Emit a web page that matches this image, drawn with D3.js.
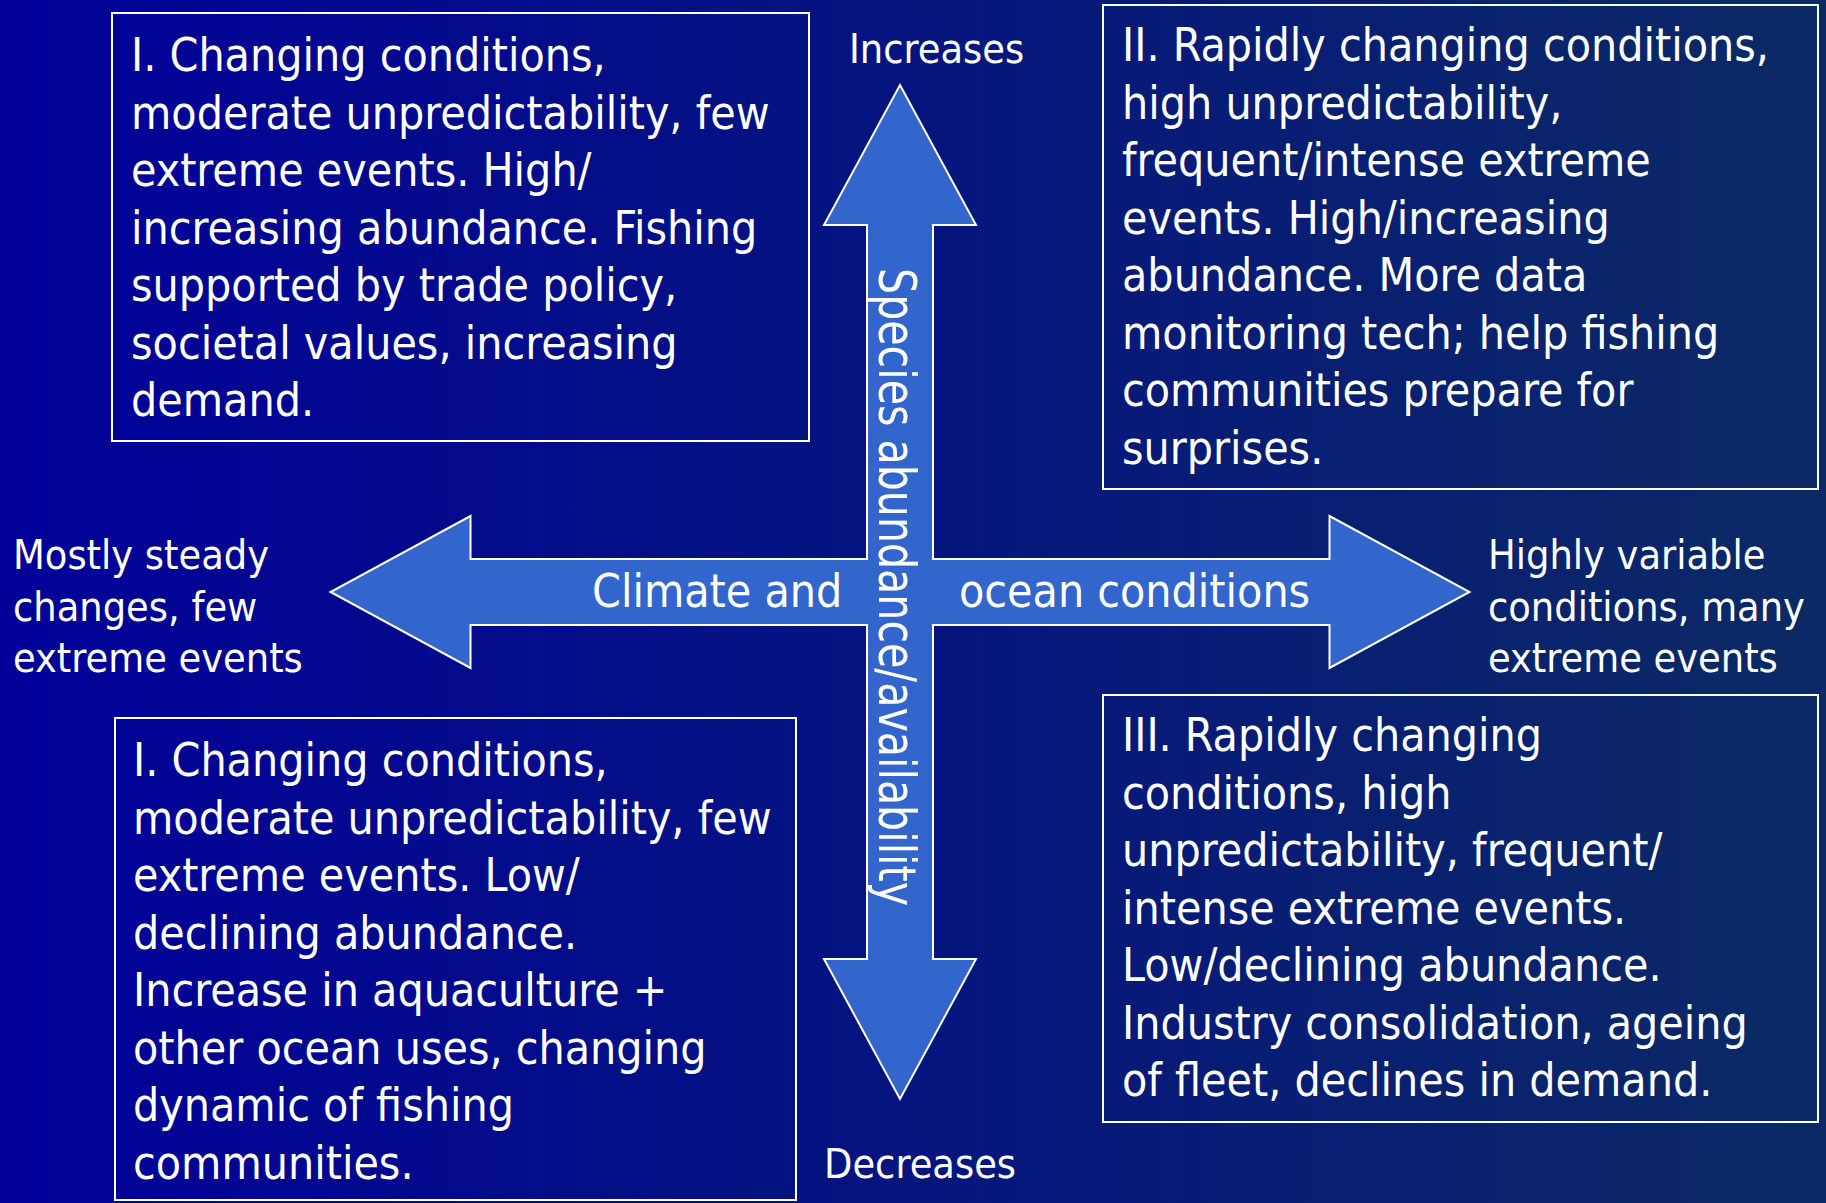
<!DOCTYPE html>
<html>
<head>
<meta charset="utf-8">
<style>
  html, body { margin: 0; padding: 0; background: #000099; }
  svg { display: block; }
  text {
    font-family: "DejaVu Sans Condensed", "DejaVu Sans", sans-serif;
    font-stretch: condensed;
    fill: #ffffff;
  }
  .box rect { fill: none; stroke: #ffffff; stroke-width: 2; }
  .arrow { fill: #3366cc; stroke: #ffffff; stroke-width: 2; stroke-linejoin: miter; }
</style>
<script src="https://cdn.jsdelivr.net/npm/d3@7"></script>
</head>
<body>
<svg width="1826" height="1203"></svg>
<script>
// quadrant texts
var boxTopLeft = [
  "I. Changing conditions,",
  "moderate unpredictability, few",
  "extreme events. High/",
  "increasing abundance. Fishing",
  "supported by trade policy,",
  "societal values, increasing",
  "demand."
];
var boxTopRight = [
  "II. Rapidly changing conditions,",
  "high unpredictability,",
  "frequent/intense extreme",
  "events. High/increasing",
  "abundance. More data",
  "monitoring tech; help fishing",
  "communities prepare for",
  "surprises."
];
var boxBottomLeft = [
  "I. Changing conditions,",
  "moderate unpredictability, few",
  "extreme events. Low/",
  "declining abundance.",
  "Increase in aquaculture +",
  "other ocean uses, changing",
  "dynamic of fishing",
  "communities."
];
var boxBottomRight = [
  "III. Rapidly changing",
  "conditions, high",
  "unpredictability, frequent/",
  "intense extreme events.",
  "Low/declining abundance.",
  "Industry consolidation, ageing",
  "of fleet, declines in demand."
];

// axis end labels
var leftEnd = ["Mostly steady", "changes, few", "extreme events"];
var rightEnd = ["Highly variable", "conditions, many", "extreme events"];
var topEnd = "Increases";
var bottomEnd = "Decreases";
var xTitle = ["Climate and", "ocean conditions"];
var yTitle = "Species abundance/availability";

var svg = d3.select("svg");
var W = 1826, H = 1203;

// background gradient
var defs = svg.append("defs");
var grad = defs.append("linearGradient").attr("id", "bg")
  .attr("x1", "0%").attr("x2", "100%").attr("y1", "0%").attr("y2", "0%");
grad.append("stop").attr("offset", "0%").attr("stop-color", "#000099");
grad.append("stop").attr("offset", "100%").attr("stop-color", "#0b2a64");
svg.append("rect").attr("width", W).attr("height", H).attr("fill", "url(#bg)");

// diagram scales: -1..1 on each axis
var x = d3.scaleLinear().domain([-1, 1]).range([330.5, 1469.5]);
var y = d3.scaleLinear().domain([-1, 1]).range([1099, 85]);

var cx = x(0), cy = y(0);
var shaft = 33, headW = 76, headL = 140;
var xl = x(-1), xr = x(1), yt = y(1), yb = y(-1);

var pts = [
  [cx, yt], [cx + headW, yt + headL], [cx + shaft, yt + headL],
  [cx + shaft, cy - shaft], [xr - headL, cy - shaft], [xr - headL, cy - headW],
  [xr, cy], [xr - headL, cy + headW], [xr - headL, cy + shaft],
  [cx + shaft, cy + shaft], [cx + shaft, yb - headL], [cx + headW, yb - headL],
  [cx, yb], [cx - headW, yb - headL], [cx - shaft, yb - headL],
  [cx - shaft, cy + shaft], [xl + headL, cy + shaft], [xl + headL, cy + headW],
  [xl, cy], [xl + headL, cy - headW], [xl + headL, cy - shaft],
  [cx - shaft, cy - shaft], [cx - shaft, yt + headL], [cx - headW, yt + headL]
];
svg.append("path").attr("class", "arrow")
  .attr("d", d3.line()(pts) + "Z");

// axis titles on the arrow
svg.append("text").attr("x", 592).attr("y", 607)
  .attr("font-size", 46).text(xTitle[0]);
svg.append("text").attr("x", 959).attr("y", 607)
  .attr("font-size", 46).text(xTitle[1]);
svg.append("text")
  .attr("transform", "translate(879,268) rotate(90) scale(1,1.12)")
  .attr("font-size", 46)
  .attr("textLength", 638).attr("lengthAdjust", "spacingAndGlyphs")
  .text(yTitle);

// end labels
svg.append("text").attr("x", 849).attr("y", 63).attr("font-size", 41).text(topEnd);
svg.append("text").attr("x", 824).attr("y", 1178).attr("font-size", 41).text(bottomEnd);

function endLabel(lines, lx, ly) {
  svg.append("g").selectAll("text").data(lines).enter().append("text")
    .attr("x", lx).attr("y", function(d, i) { return ly + i * 51.5; })
    .attr("font-size", 41).text(function(d) { return d; });
}
endLabel(leftEnd, 13, 569);
endLabel(rightEnd, 1488, 569);

// quadrant boxes
function box(lines, bx, by, bw, bh, tx, ty) {
  var g = svg.append("g").attr("class", "box");
  g.append("rect").attr("x", bx).attr("y", by).attr("width", bw).attr("height", bh);
  g.selectAll("text").data(lines).enter().append("text")
    .attr("x", tx).attr("y", function(d, i) { return ty + i * 57.5; })
    .attr("font-size", 46).text(function(d) { return d; });
}
box(boxTopLeft, 112, 13, 697, 428, 131, 71);
box(boxTopRight, 1103, 5, 715, 484, 1122, 61);
box(boxBottomLeft, 115, 718, 681, 482, 133, 776);
box(boxBottomRight, 1103, 695, 715, 427, 1122, 751);
</script>
</body>
</html>
